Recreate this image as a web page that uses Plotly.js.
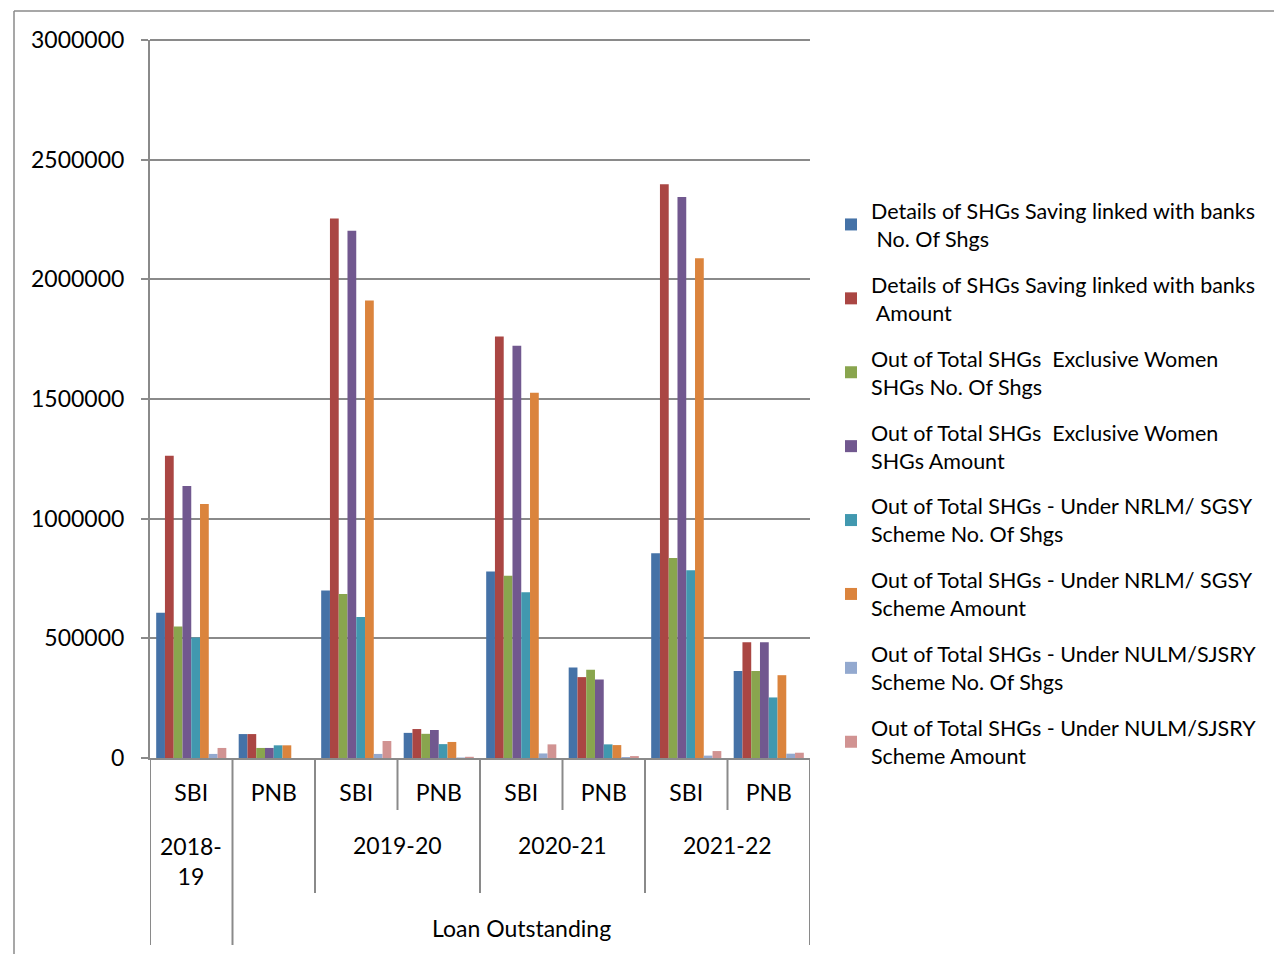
<!DOCTYPE html>
<html>
<head>
<meta charset="utf-8">
<script src="https://cdn.plot.ly/plotly-3.0.1.min.js"></script>
<style>
  html, body { margin: 0; padding: 0; background: #ffffff; }
  #chart { width: 1274px; height: 954px; }
</style>
</head>
<body>
<div id="chart"></div>
<script>
// ---- Data ----
const years = ["2018-19", "2018-19", "2019-20", "2019-20", "2020-21", "2020-21", "2021-22", "2021-22"];
const banks = ["SBI", "PNB", "SBI", "PNB", "SBI", "PNB", "SBI", "PNB"];
const yearLabels = ["2018-<br>19", "2019-20", "2020-21", "2021-22"];
const groupLabel = "Loan Outstanding";

const seriesNames = [
  "Details of SHGs Saving linked with banks<br>\u00a0No. Of Shgs",
  "Details of SHGs Saving linked with banks<br>\u00a0Amount",
  "Out of Total SHGs \u00a0Exclusive Women<br>SHGs No. Of Shgs",
  "Out of Total SHGs \u00a0Exclusive Women<br>SHGs Amount",
  "Out of Total SHGs - Under NRLM/ SGSY<br>Scheme No. Of Shgs",
  "Out of Total SHGs - Under NRLM/ SGSY<br>Scheme Amount",
  "Out of Total SHGs - Under NULM/SJSRY<br>Scheme No. Of Shgs",
  "Out of Total SHGs - Under NULM/SJSRY<br>Scheme Amount"
];

const savingNo        = [607000, 100000, 700000, 105000, 779000, 378000, 855000, 363000];
const savingAmount    = [1263000, 100000, 2254000, 121000, 1761000, 338000, 2397000, 484000];
const womenNo         = [549000, 42000, 685000, 101000, 761000, 369000, 836000, 363000];
const womenAmount     = [1136000, 42000, 2203000, 117000, 1722000, 328000, 2344000, 484000];
const nrlmNo          = [504000, 53000, 589000, 58000, 693000, 57000, 784000, 253000];
const nrlmAmount      = [1061000, 53000, 1912000, 67000, 1526000, 54000, 2088000, 346000];
const nulmNo          = [17000, 0, 17000, 2000, 19000, 4000, 10000, 18000];
const nulmAmount      = [42000, 0, 71000, 5000, 57000, 8000, 29000, 22000];

const seriesValues = [savingNo, savingAmount, womenNo, womenAmount, nrlmNo, nrlmAmount, nulmNo, nulmAmount];
const colors = ["#4572A7", "#AA4643", "#89A54E", "#71588F", "#4198AF", "#DB843D", "#93A9CF", "#D19392"];

// ---- Build ----
const cats = years.map((y, i) => y + " " + banks[i]);
const FONT = "Lato, 'Open Sans', sans-serif";
const GRAY = "#8a8a8a";
const yMax = 3000000;

const traces = seriesValues.map((vals, k) => ({
  type: "bar",
  name: seriesNames[k],
  x: cats,
  y: vals,
  legendgroup: "g" + k,
  marker: { color: colors[k], line: { width: 0 } },
  hoverinfo: "y+name"
}));

// pixel helpers for paper coordinates (plot area: x 150..810, y 40..758)
const PL = 150, PR = 810, PT = 40, PB = 758;
const py = p => (PB - p) / (PB - PT);
const px = p => (p - PL) / (PR - PL);

// dividers below the axis (category boundaries)
const boundaryDepth = [945, 945, 893, 810, 893, 810, 893, 810, 945];
const shapes = boundaryDepth.map((d, i) => ({
  type: "line", xref: "x", yref: "paper",
  x0: i - 0.5, x1: i - 0.5, y0: 0, y1: py(d),
  line: { color: GRAY, width: 2 }
}));
// top gridline at the axis maximum (top edge of plot area)
shapes.push({ type: "line", xref: "paper", yref: "paper", x0: 0, x1: 1, y0: 1, y1: 1, line: { color: GRAY, width: 2 } });
// outer chart border (top and left)
shapes.push({ type: "line", xref: "paper", yref: "paper", x0: px(14), x1: px(1290), y0: py(11), y1: py(11), line: { color: GRAY, width: 1.5 } });
shapes.push({ type: "line", xref: "paper", yref: "paper", x0: px(14), x1: px(14), y0: py(11), y1: py(970), line: { color: GRAY, width: 1.5 } });

const annotations = [];
// year labels
const yearPos = [0, 2.5, 4.5, 6.5];
yearLabels.forEach((t, i) => {
  annotations.push({
    text: t, xref: "x", yref: "paper", x: yearPos[i], y: i === 0 ? py(861) : py(845),
    showarrow: false, xanchor: "center", yanchor: "middle",
    font: { family: FONT, size: 23, color: "#000" }
  });
});
annotations.push({
  text: groupLabel, xref: "x", yref: "paper", x: 4, y: py(928),
  showarrow: false, xanchor: "center", yanchor: "middle",
  font: { family: FONT, size: 23, color: "#000" }
});

const layout = {
  width: 1274, height: 954,
  margin: { l: PL, r: 1274 - PR, t: PT, b: 954 - PB, pad: 0 },
  paper_bgcolor: "#ffffff", plot_bgcolor: "#ffffff",
  font: { family: FONT, size: 23, color: "#000" },
  barmode: "group", bargap: 0.15, bargroupgap: 0,
  showlegend: true,
  legend: {
    x: px(831), xanchor: "left", y: py(190), yanchor: "top",
    font: { family: FONT, size: 21.5, color: "#000" },
    traceorder: "grouped", tracegroupgap: 15,
    bgcolor: "rgba(0,0,0,0)"
  },
  xaxis: {
    type: "category",
    tickmode: "array", tickvals: cats, ticktext: banks,
    ticks: "", showgrid: false, showline: true, linecolor: GRAY, linewidth: 2,
    ticklabelstandoff: 13,
    tickfont: { family: FONT, size: 23, color: "#000" },
    range: [-0.5, 7.5], fixedrange: true
  },
  yaxis: {
    range: [0, yMax], dtick: 500000, tick0: 0, tickformat: "d",
    ticks: "outside", ticklen: 7, tickcolor: GRAY, tickwidth: 2,
    showgrid: true, gridcolor: GRAY, gridwidth: 2,
    showline: true, linecolor: GRAY, linewidth: 2,
    zeroline: false,
    ticklabelstandoff: 12,
    tickfont: { family: FONT, size: 23, color: "#000" },
    fixedrange: true
  },
  shapes: shapes,
  annotations: annotations
};

Plotly.newPlot("chart", traces, layout, { displayModeBar: false, staticPlot: true });
</script>
</body>
</html>
